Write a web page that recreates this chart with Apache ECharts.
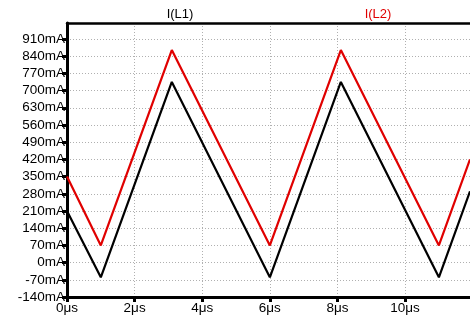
<!DOCTYPE html>
<html><head><meta charset="utf-8">
<script src="https://cdn.jsdelivr.net/npm/echarts@6/dist/echarts.min.js"></script>
<style>html,body{margin:0;padding:0;background:#fff}#c{width:470px;height:325px}</style>
</head><body><div id="c"></div>
<script>
const seriesNames = ['I(L1)', 'I(L2)'];
const timeUs = [0, 1, 3.1, 6, 8.1, 11, 11.92];
const iL1 = [210, -60, 735, -60, 735, -60, 290];
const iL2 = [350, 70, 865, 70, 865, 70, 420];
const yMin = -140, yMax = 975, yStep = 70;
const xMin = 0, xMax = 11.92, xStep = 2;

const chart = echarts.init(document.getElementById('c'));
const font = 'Liberation Sans, Arial, sans-serif';
chart.setOption({
  animation: false,
  title: [
    {text: seriesNames[0], left: 175, top: 3, textAlign: 'center', textStyle: {fontFamily: font, fontSize: 13, fontWeight: 'normal', color: '#000'}},
    {text: seriesNames[1], left: 373, top: 3, textAlign: 'center', textStyle: {fontFamily: font, fontSize: 13, fontWeight: 'normal', color: '#e00000'}}
  ],
  grid: {left: 67, top: 23, right: 0, bottom: 28},
  xAxis: [{
    type: 'value', min: xMin, max: xMax, interval: xStep,
    axisLine: {onZero: false, lineStyle: {color: '#000', width: 3}},
    axisTick: {length: 5, lineStyle: {color: '#000', width: 3}},
    axisLabel: {showMaxLabel: false, margin: 4, color: '#000', fontFamily: font, fontSize: 13.5, formatter: v => v + 'μs'},
    splitLine: {show: true, lineStyle: {color: '#b0b0b0', type: [1, 2], width: 1}}
  }, {
    type: 'value', position: 'top', min: xMin, max: xMax,
    axisLine: {show: true, onZero: false, lineStyle: {color: '#000', width: 2.5}},
    axisTick: {show: false}, axisLabel: {show: false}, splitLine: {show: false}
  }],
  yAxis: {
    type: 'value', min: yMin, max: yMax, interval: yStep,
    axisLine: {show: true, onZero: false, lineStyle: {color: '#000', width: 3}},
    axisTick: {show: true, length: 5, lineStyle: {color: '#000', width: 3}},
    axisLabel: {showMaxLabel: false, margin: 2, color: '#000', fontFamily: font, fontSize: 13.5, formatter: v => v + 'mA'},
    splitLine: {show: true, lineStyle: {color: '#b0b0b0', type: [1, 2], width: 1}}
  },
  series: [
    {name: seriesNames[0], type: 'line', data: timeUs.map((t, i) => [t, iL1[i]]), showSymbol: false, lineStyle: {color: '#000', width: 2.2}, z: 3},
    {name: seriesNames[1], type: 'line', data: timeUs.map((t, i) => [t, iL2[i]]), showSymbol: false, lineStyle: {color: '#e00000', width: 2.2}, z: 4}
  ]
});
</script></body></html>
